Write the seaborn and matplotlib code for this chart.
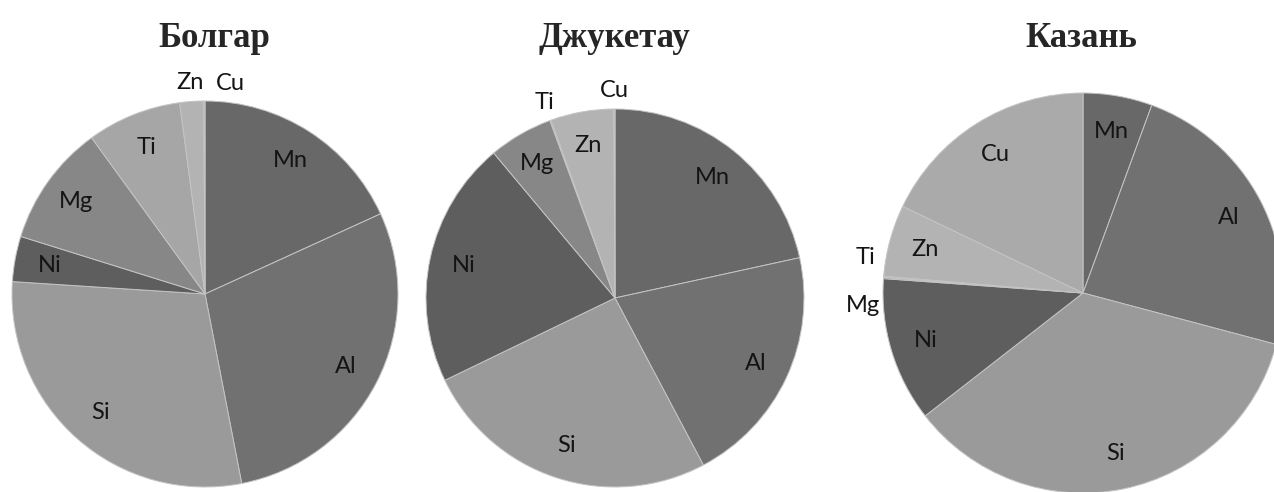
import numpy as np
import seaborn as sns
import matplotlib.pyplot as plt

elements = ["Mn", "Al", "Si", "Ni", "Mg", "Ti", "Zn", "Cu"]
sites = ["Болгар", "Джукетау", "Казань"]

# shares, %
bolgar = [18.2, 28.8, 29.1, 3.8, 10.2, 7.9, 2.0, 0.1]
dzhuketau = [21.6, 20.7, 25.6, 21.1, 5.5, 0.1, 5.4, 0.1]
kazan = [5.6, 23.6, 35.4, 11.7, 0.1, 0.1, 5.8, 17.9]

grays = {
    "Mn": "#686868", "Al": "#717171", "Si": "#9a9a9a", "Ni": "#5e5e5e",
    "Mg": "#878787", "Ti": "#a6a6a6", "Zn": "#b3b3b3", "Cu": "#aaaaaa",
}

sns.set_theme(style="white")
plt.rcParams["font.family"] = ["Lato", "DejaVu Sans"]

W, H = 1274, 492
fig = plt.figure(figsize=(W / 100, H / 100), dpi=100)

# pie centre (px from left/top) and radius in px
layout = [(205, 294, 193), (615, 298, 189), (1083, 293, 200)]
title_x = [214, 614, 1081]
# clockwise nudges (deg) for crowded outside labels
nudge = {(0, "Cu"): 7, (2, "Mg"): -7.5, (2, "Ti"): 4.5}

for k, vals in enumerate([bolgar, dzhuketau, kazan]):
    cx, cy, r = layout[k]
    ax = fig.add_axes([(cx - r) / W, (H - cy - r) / H, 2 * r / W, 2 * r / H])
    wedges, _ = ax.pie(vals, colors=[grays[e] for e in elements], startangle=90,
                       counterclock=False, radius=1,
                       wedgeprops=dict(edgecolor="#c4c4c4", linewidth=0.7))
    ax.set_xlim(-1, 1)
    ax.set_ylim(-1, 1)
    ax.axis("off")
    total = sum(vals)
    for w, e, v in zip(wedges, elements, vals):
        mid = (w.theta1 + w.theta2) / 2 - nudge.get((k, e), 0)
        d = 0.82 if 100 * v / total >= 3 else 1.1
        ax.text(d * np.cos(np.radians(mid)), d * np.sin(np.radians(mid)), e,
                ha="center", va="center", fontsize=17, color="#141414")
    fig.text(title_x[k] / W, 1 - 47 / H, sites[k], ha="center", va="baseline",
             fontsize=25, fontweight="bold", family="Liberation Serif")

fig.savefig("out.png", dpi=100)
